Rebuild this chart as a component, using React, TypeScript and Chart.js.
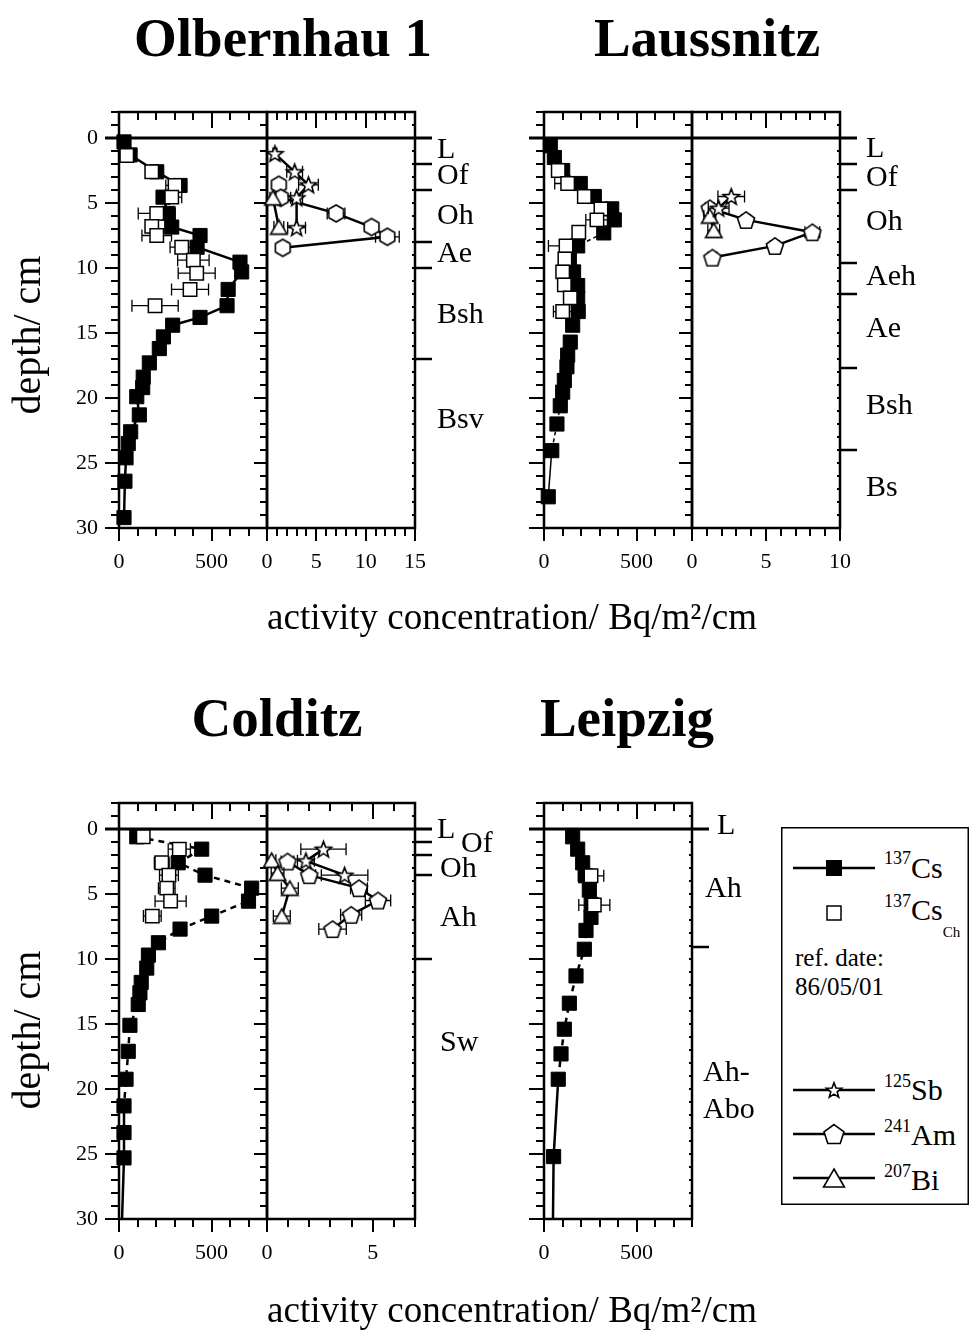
import React, { useEffect, useRef } from 'react';
import { Chart, registerables } from 'chart.js';

Chart.register(...registerables);

const FONT = '"Liberation Serif", "Times New Roman", Times, serif';

// ---------------- data (depth in cm, value) ----------------
// Olbernhau 1 : 137Cs (Bq/m²/cm)
const olbCsDepth = [0.3, 1.3, 2.6, 3.65, 4.55, 5.8, 6.85, 7.5, 8.4, 9.55, 10.3, 11.65, 12.9, 13.8, 14.4, 15.3, 16.2, 17.3, 18.4, 19.2, 19.9, 21.3, 22.6, 23.5, 24.6, 26.4, 29.2];
const olbCsValue = [27, 60, 204, 330, 238, 265, 285, 438, 422, 654, 663, 590, 584, 438, 290, 240, 218, 164, 131, 128, 96, 110, 63, 50, 38, 32, 27];
const olbChDepth = [1.35, 2.6, 3.65, 4.55, 5.8, 6.8, 7.5, 8.4, 9.4, 10.4, 11.65, 12.9];
const olbChValue = [42, 177, 303, 285, 204, 177, 204, 339, 402, 420, 384, 195];
const olbChErr = [10, 10, 50, 54, 100, 25, 80, 63, 85, 100, 100, 125];
const olbSbDepth = [1.2, 2.6, 3.6, 4.6, 6.9];
const olbSbValue = [0.8, 2.8, 4.2, 3.0, 3.0];
const olbSbErr = [0.2, 0.8, 1.0, 0.6, 0.9];
const olbAmDepth = [3.6, 4.6, 5.8, 6.85, 7.6, 8.45];
const olbAmValue = [1.2, 1.4, 7.0, 10.6, 12.2, 1.6];
const olbAmErr = [0.4, 0.5, 0.9, 0.5, 1.2, 0.5];
const olbBiDepth = [4.6, 6.85];
const olbBiValue = [0.6, 1.2];
const olbBiErr = [0.3, 0.5];
const olbHorizonBounds = [2, 4, 8, 10, 17];
const olbHorizonNames = ['L', 'Of', 'Oh', 'Ae', 'Bsh', 'Bsv'];
const olbHorizonDepths = [0.9, 2.9, 6.0, 8.9, 13.6, 21.7];

// Laussnitz
const lauCsDepth = [0.6, 1.5, 2.5, 3.5, 4.5, 5.45, 6.3, 7.3, 8.3, 9.3, 10.3, 11.35, 12.3, 13.35, 14.4, 15.7, 16.7, 17.6, 18.65, 19.55, 20.6, 22, 24.05, 27.6];
const lauCsValue = [34, 56, 101, 196, 272, 366, 380, 323, 182, 137, 160, 182, 182, 185, 155, 142, 128, 124, 110, 101, 88, 70, 42, 23];
const lauChDepth = [2.5, 3.5, 4.5, 5.45, 6.3, 7.25, 8.3, 9.3, 10.3, 11.3, 12.3, 13.35];
const lauChValue = [77, 128, 218, 308, 286, 188, 119, 113, 101, 110, 142, 101];
const lauChErr = [15, 70, 30, 30, 60, 20, 95, 20, 30, 20, 30, 50];
const lauSbDepth = [4.5, 5.4];
const lauSbValue = [2.65, 1.8];
const lauSbErr = [0.9, 0.7];
const lauAmDepth = [5.4, 6.3, 7.25, 8.3, 9.2];
const lauAmValue = [1.2, 3.65, 8.13, 5.6, 1.38];
const lauAmErr = [0.3, 0.3, 0.5, 0.3, 0.3];
const lauBiDepth = [6.0, 7.1];
const lauBiValue = [1.2, 1.47];
const lauBiErr = [0.4, 0.4];
const lauHorizonBounds = [2, 4, 9.6, 12, 17.7, 24];
const lauHorizonNames = ['L', 'Of', 'Oh', 'Aeh', 'Ae', 'Bsh', 'Bs'];
const lauHorizonDepths = [0.85, 3.1, 6.45, 10.7, 14.7, 20.6, 26.9];

// Colditz
const colCsDepth = [0.6, 1.55, 2.6, 3.55, 4.55, 5.55, 6.7, 7.7, 8.75, 9.7, 10.7, 11.8, 12.6, 13.5, 15.1, 17.1, 19.25, 21.3, 23.35, 25.3, 32];
const colCsValue = [96, 447, 320, 465, 717, 700, 501, 330, 213, 159, 150, 120, 113, 104, 59, 50, 38, 27, 27, 27, 12];
const colChDepth = [0.6, 1.55, 2.6, 3.55, 4.55, 5.55, 6.7];
const colChValue = [131, 326, 231, 270, 258, 279, 180];
const colChErr = [25, 60, 40, 51, 45, 84, 48];
const colSbDepth = [1.55, 2.45, 3.55];
const colSbValue = [2.67, 1.84, 3.67];
const colSbErr = [1.07, 0.4, 1.1];
const colAmDepth = [2.5, 3.55, 4.55, 5.5, 6.6, 7.7];
const colAmValue = [0.97, 2.0, 4.35, 5.25, 3.98, 3.1];
const colAmErr = [0.3, 0.3, 0.4, 0.6, 0.5, 0.65];
const colBiDepth = [2.4, 3.4, 4.55, 6.7];
const colBiValue = [0.22, 0.5, 1.08, 0.7];
const colBiErr = [0.2, 0.3, 0.4, 0.4];
const colHorizonBounds = [1, 2, 3.5, 10];
const colHorizonNames = ['L', 'Of', 'Oh', 'Ah', 'Sw'];
const colHorizonDepths = [0.1, 1.2, 3.1, 6.85, 16.5];

// Leipzig
const leiCsDepth = [0.6, 1.55, 2.6, 3.6, 4.7, 5.8, 6.8, 7.8, 9.25, 11.3, 13.4, 15.4, 17.3, 19.25, 25.2, 32];
const leiCsValue = [155, 182, 209, 225, 245, 255, 254, 227, 218, 173, 137, 110, 92, 77, 52, 47];
const leiChDepth = [3.6, 5.85];
const leiChValue = [254, 272];
const leiChErr = [69, 84];
const leiHorizonBounds = [9.1];
const leiHorizonNames = ['L', 'Ah', 'Ah-', 'Abo'];
const leiHorizonDepths = [-0.2, 4.6, 18.8, 21.6];

// axis ranges
const DEPTH_MIN = -2;
const DEPTH_MAX = 30;
const CS_MAX = 800;

// ---------------- layout ----------------
const TOP_Y = 112;
const BOT_Y = 803;
const PLOT_W = 148;
const PLOT_H = 416;
const PADL = 70;
const PADR = 130;
const PADT = 45;
const PADB = 60;
const YW = 50;
const XH = 45;

// ---------------- markers ----------------
function polygon(kind: string, cx: number, cy: number, r: number): [number, number][] {
  const out: [number, number][] = [];
  if (kind === 'star') {
    const off = r * 0.09;
    for (let i = 0; i < 10; i++) {
      const ang = -Math.PI / 2 + (i * Math.PI) / 5;
      const rr = i % 2 === 0 ? r : r * 0.42;
      out.push([cx + rr * Math.cos(ang), cy + off + rr * Math.sin(ang)]);
    }
  } else {
    const n = kind === 'pentagon' ? 5 : kind === 'hexagon' ? 6 : 3;
    const off = kind === 'triangle' ? r * 0.25 : kind === 'pentagon' ? r * 0.1 : 0;
    for (let i = 0; i < n; i++) {
      const ang = -Math.PI / 2 + (i * 2 * Math.PI) / n;
      out.push([cx + r * Math.cos(ang), cy + off + r * Math.sin(ang)]);
    }
  }
  return out;
}

function makeMarker(kind: string, diameter: number): HTMLCanvasElement {
  const c = document.createElement('canvas');
  const s = Math.ceil(diameter + 6);
  c.width = s;
  c.height = s;
  const ctx = c.getContext('2d')!;
  const p = polygon(kind, s / 2, s / 2, diameter / 2);
  ctx.beginPath();
  p.forEach(([x, y], i) => (i ? ctx.lineTo(x, y) : ctx.moveTo(x, y)));
  ctx.closePath();
  ctx.fillStyle = '#fff';
  ctx.fill();
  ctx.lineWidth = 1.6;
  ctx.strokeStyle = '#000';
  ctx.stroke();
  return c;
}

type Markers = Record<string, HTMLCanvasElement>;

const pts = (depth: number[], value: number[]) => depth.map((d, i) => ({ x: value[i], y: d }));
const CLIP = { left: 12, top: 12, right: 12, bottom: 0 };

function filledCs(depth: number[], value: number[], lw: number, dash: number[], solidFrom: number) {
  return {
    data: pts(depth, value),
    showLine: true,
    borderColor: '#000',
    borderWidth: lw,
    segment: {
      borderDash: (c: any) => (c.p0.parsed.y >= solidFrom ? [] : dash),
    },
    pointStyle: 'rect',
    pointRadius: 10,
    pointBackgroundColor: '#000',
    pointBorderColor: '#000',
    pointBorderWidth: 1,
    clip: CLIP,
  };
}

function openCs(depth: number[], value: number[], err: number[]) {
  return {
    data: pts(depth, value),
    errX: err,
    showLine: false,
    pointStyle: 'rect',
    pointRadius: 9.5,
    pointBackgroundColor: '#fff',
    pointBorderColor: '#000',
    pointBorderWidth: 1.5,
    clip: CLIP,
  };
}

function nuclide(depth: number[], value: number[], err: number[], marker: HTMLCanvasElement) {
  return {
    data: pts(depth, value),
    errX: err,
    showLine: true,
    borderColor: '#000',
    borderWidth: 2.5,
    pointStyle: marker,
    pointRadius: 8,
    clip: CLIP,
  };
}

type SubDef = {
  x0: number;
  y0: number;
  xMax: number;
  xStep: number;
  xMajor: number;
  yLabels: boolean;
  leftMajor: number;
  leftMinor: number;
  rightInner: boolean;
  zeroLeft: number;
  zeroRight: number;
  bounds?: number[];
  names?: string[];
  labelDepths?: number[];
  labelDx?: number[];
  datasets: (m: Markers) => any[];
};

const SUBPLOTS: SubDef[] = [
  {
    x0: 119, y0: TOP_Y, xMax: CS_MAX, xStep: 100, xMajor: 500, yLabels: true,
    leftMajor: 14, leftMinor: 8, rightInner: false, zeroLeft: 14, zeroRight: 0,
    datasets: () => [openCs(olbChDepth, olbChValue, olbChErr), filledCs(olbCsDepth, olbCsValue, 2.5, [], 0)],
  },
  {
    x0: 267, y0: TOP_Y, xMax: 15, xStep: 1, xMajor: 5, yLabels: false,
    leftMajor: 13, leftMinor: 7, rightInner: true, zeroLeft: 0, zeroRight: 17,
    bounds: olbHorizonBounds, names: olbHorizonNames, labelDepths: olbHorizonDepths,
    labelDx: [22, 22, 22, 22, 22, 22],
    datasets: (m) => [
      nuclide(olbSbDepth, olbSbValue, olbSbErr, m.star),
      nuclide(olbBiDepth, olbBiValue, olbBiErr, m.triangle),
      nuclide(olbAmDepth, olbAmValue, olbAmErr, m.hexagon),
    ],
  },
  {
    x0: 544, y0: TOP_Y, xMax: CS_MAX, xStep: 100, xMajor: 500, yLabels: false,
    leftMajor: 15, leftMinor: 8, rightInner: false, zeroLeft: 15, zeroRight: 0,
    datasets: () => [openCs(lauChDepth, lauChValue, lauChErr), filledCs(lauCsDepth, lauCsValue, 1.5, [4, 3], 24)],
  },
  {
    x0: 692, y0: TOP_Y, xMax: 10, xStep: 1, xMajor: 5, yLabels: false,
    leftMajor: 13, leftMinor: 7, rightInner: true, zeroLeft: 0, zeroRight: 17,
    bounds: lauHorizonBounds, names: lauHorizonNames, labelDepths: lauHorizonDepths,
    labelDx: [26, 26, 26, 26, 26, 26, 26],
    datasets: (m) => [
      nuclide(lauSbDepth, lauSbValue, lauSbErr, m.star),
      nuclide(lauBiDepth, lauBiValue, lauBiErr, m.triangle),
      nuclide(lauAmDepth, lauAmValue, lauAmErr, m.pentagon),
    ],
  },
  {
    x0: 119, y0: BOT_Y, xMax: CS_MAX, xStep: 100, xMajor: 500, yLabels: true,
    leftMajor: 14, leftMinor: 8, rightInner: false, zeroLeft: 14, zeroRight: 0,
    datasets: () => [openCs(colChDepth, colChValue, colChErr), filledCs(colCsDepth, colCsValue, 2.5, [6, 5], 25)],
  },
  {
    x0: 267, y0: BOT_Y, xMax: 7, xStep: 1, xMajor: 5, yLabels: false,
    leftMajor: 13, leftMinor: 7, rightInner: true, zeroLeft: 0, zeroRight: 17,
    bounds: colHorizonBounds, names: colHorizonNames, labelDepths: colHorizonDepths,
    labelDx: [22, 46, 25, 25, 25],
    datasets: (m) => [
      nuclide(colSbDepth, colSbValue, colSbErr, m.star),
      nuclide(colBiDepth, colBiValue, colBiErr, m.triangle),
      nuclide(colAmDepth, colAmValue, colAmErr, m.pentagon),
    ],
  },
  {
    x0: 544, y0: BOT_Y, xMax: CS_MAX, xStep: 100, xMajor: 500, yLabels: false,
    leftMajor: 15, leftMinor: 8, rightInner: true, zeroLeft: 15, zeroRight: 17,
    bounds: leiHorizonBounds, names: leiHorizonNames, labelDepths: leiHorizonDepths,
    labelDx: [25, 13, 11, 11],
    datasets: () => [openCs(leiChDepth, leiChValue, leiChErr), filledCs(leiCsDepth, leiCsValue, 2.5, [6, 5], 19)],
  },
];

const isMultiple = (v: number, m: number) => Math.abs(v / m - Math.round(v / m)) < 1e-6;

const framePlugin = {
  id: 'frame',
  beforeDatasetsDraw(chart: any, _args: any, o: any) {
    const { ctx, chartArea: a } = chart;
    const xs = chart.scales.x;
    const ys = chart.scales.y;
    ctx.save();
    ctx.strokeStyle = '#000';
    ctx.lineCap = 'butt';
    ctx.lineWidth = 2;
    ctx.beginPath();
    for (const t of xs.ticks) {
      const px = Math.round(xs.getPixelForValue(t.value));
      const major = isMultiple(t.value, o.xMajor);
      ctx.moveTo(px, a.bottom);
      ctx.lineTo(px, a.bottom + (major ? 13 : 8));
      ctx.moveTo(px, a.top);
      ctx.lineTo(px, a.top + (major ? 16 : 8));
    }
    for (const t of ys.ticks) {
      const py = Math.round(ys.getPixelForValue(t.value));
      const major = isMultiple(t.value, 5);
      ctx.moveTo(a.left, py);
      ctx.lineTo(a.left - (major ? o.leftMajor : o.leftMinor), py);
      if (o.rightInner) {
        ctx.moveTo(a.right, py);
        ctx.lineTo(a.right - 3, py);
      }
    }
    ctx.stroke();
    if (o.bounds) {
      ctx.lineWidth = 2.5;
      ctx.beginPath();
      for (const b of o.bounds) {
        const py = Math.round(ys.getPixelForValue(b));
        ctx.moveTo(a.right, py);
        ctx.lineTo(a.right + 17, py);
      }
      ctx.stroke();
    }
    ctx.lineWidth = 2.5;
    ctx.strokeRect(a.left, a.top, a.right - a.left, a.bottom - a.top);
    const y0 = Math.round(ys.getPixelForValue(0));
    ctx.lineWidth = 3;
    ctx.beginPath();
    ctx.moveTo(a.left - o.zeroLeft, y0);
    ctx.lineTo(a.right + o.zeroRight, y0);
    ctx.stroke();
    if (o.names) {
      ctx.fillStyle = '#000';
      ctx.font = `30px ${FONT}`;
      ctx.textBaseline = 'middle';
      ctx.textAlign = 'left';
      o.names.forEach((n: string, i: number) => {
        ctx.fillText(n, a.right + o.labelDx[i], ys.getPixelForValue(o.labelDepths[i]));
      });
    }
    ctx.restore();
  },
};

const errorBarPlugin = {
  id: 'errbars',
  beforeDatasetDraw(chart: any, args: any) {
    const ds: any = chart.data.datasets[args.index];
    if (!ds.errX) return;
    const { ctx, chartArea: a } = chart;
    const xs = chart.scales.x;
    ctx.save();
    ctx.beginPath();
    ctx.rect(a.left - 12, a.top, a.right - a.left + 24, a.bottom - a.top);
    ctx.clip();
    ctx.strokeStyle = '#000';
    ctx.lineWidth = 1.3;
    ctx.beginPath();
    args.meta.data.forEach((el: any, i: number) => {
      const e = ds.errX[i];
      if (!e) return;
      const v = ds.data[i].x;
      const x1 = xs.getPixelForValue(v - e);
      const x2 = xs.getPixelForValue(v + e);
      const y = el.y;
      ctx.moveTo(x1, y);
      ctx.lineTo(x2, y);
      ctx.moveTo(x1, y - 6);
      ctx.lineTo(x1, y + 6);
      ctx.moveTo(x2, y - 6);
      ctx.lineTo(x2, y + 6);
    });
    ctx.stroke();
    ctx.restore();
  },
};

function buildConfig(sp: SubDef, m: Markers): any {
  return {
    type: 'scatter',
    data: { datasets: sp.datasets(m) },
    options: {
      animation: false,
      responsive: false,
      events: [],
      layout: {
        padding: { left: sp.yLabels ? PADL - YW : PADL, right: PADR, top: PADT, bottom: PADB - XH },
      },
      scales: {
        x: {
          type: 'linear',
          position: 'bottom',
          min: 0,
          max: sp.xMax,
          afterFit: (s: any) => {
            s.height = XH;
          },
          grid: { display: false, drawTicks: false },
          border: { display: false },
          ticks: {
            stepSize: sp.xStep,
            autoSkip: false,
            maxRotation: 0,
            padding: 21,
            color: '#000',
            font: { family: FONT, size: 22 },
            callback: (v: number) => (isMultiple(v, sp.xMajor) ? String(v) : ''),
          },
        },
        y: {
          type: 'linear',
          position: 'left',
          min: DEPTH_MIN,
          max: DEPTH_MAX,
          reverse: true,
          display: sp.yLabels,
          afterFit: (s: any) => {
            s.width = sp.yLabels ? YW : 0;
          },
          grid: { display: false, drawTicks: false },
          border: { display: false },
          ticks: {
            stepSize: 1,
            autoSkip: false,
            padding: 21,
            color: '#000',
            font: { family: FONT, size: 22 },
            callback: (v: number) => (v >= 0 && isMultiple(v, 5) ? String(v) : ''),
          },
        },
      },
      plugins: {
        legend: { display: false },
        tooltip: { enabled: false },
        frame: {
          xMajor: sp.xMajor,
          leftMajor: sp.leftMajor,
          leftMinor: sp.leftMinor,
          rightInner: sp.rightInner,
          zeroLeft: sp.zeroLeft,
          zeroRight: sp.zeroRight,
          bounds: sp.bounds || null,
          names: sp.names || null,
          labelDepths: sp.labelDepths || null,
          labelDx: sp.labelDx || null,
        },
      },
    },
    plugins: [framePlugin, errorBarPlugin],
  };
}

const ptsStr = (p: [number, number][]) => p.map(([x, y]) => `${x.toFixed(1)},${y.toFixed(1)}`).join(' ');

function Legend() {
  const L = { left: 781, top: 827, w: 188, h: 378 };
  const lx1 = 12;
  const lx2 = 94;
  const mx = 53;
  const tx = 103;
  return (
    <g transform={`translate(${L.left},${L.top})`}>
      <rect x={0.75} y={0.75} width={L.w - 1.5} height={L.h - 1.5} fill="#fff" stroke="#000" strokeWidth={1.5} />
      <line x1={lx1} y1={41} x2={lx2} y2={41} stroke="#000" strokeWidth={2.5} />
      <rect x={mx - 8} y={33} width={16} height={16} fill="#000" />
      <text x={tx} y={51} fontSize={30} fontFamily={FONT}>
        <tspan fontSize={18} dy={-14}>137</tspan>
        <tspan dy={14}>Cs</tspan>
      </text>
      <rect x={mx - 7} y={79} width={14} height={14} fill="#fff" stroke="#000" strokeWidth={1.5} />
      <text x={tx} y={93} fontSize={30} fontFamily={FONT}>
        <tspan fontSize={18} dy={-13}>137</tspan>
        <tspan dy={13}>Cs</tspan>
        <tspan fontSize={15} dy={17}>Ch</tspan>
      </text>
      <text x={14} y={139} fontSize={25} fontFamily={FONT}>ref. date:</text>
      <text x={14} y={168} fontSize={25} fontFamily={FONT}>86/05/01</text>
      <line x1={lx1} y1={263} x2={lx2} y2={263} stroke="#000" strokeWidth={2.5} />
      <polygon points={ptsStr(polygon('star', mx, 263, 8))} fill="#fff" stroke="#000" strokeWidth={1.6} />
      <text x={tx} y={273} fontSize={30} fontFamily={FONT}>
        <tspan fontSize={18} dy={-13}>125</tspan>
        <tspan dy={13}>Sb</tspan>
      </text>
      <line x1={lx1} y1={307} x2={lx2} y2={307} stroke="#000" strokeWidth={2.5} />
      <polygon points={ptsStr(polygon('pentagon', mx, 307, 10.5))} fill="#fff" stroke="#000" strokeWidth={1.6} />
      <text x={tx} y={318} fontSize={30} fontFamily={FONT}>
        <tspan fontSize={18} dy={-13}>241</tspan>
        <tspan dy={13}>Am</tspan>
      </text>
      <line x1={lx1} y1={351} x2={lx2} y2={351} stroke="#000" strokeWidth={2.5} />
      <polygon points={ptsStr(polygon('triangle', mx, 351, 12))} fill="#fff" stroke="#000" strokeWidth={1.6} />
      <text x={tx} y={363} fontSize={30} fontFamily={FONT}>
        <tspan fontSize={18} dy={-13}>207</tspan>
        <tspan dy={13}>Bi</tspan>
      </text>
    </g>
  );
}

export default function App() {
  const refs = useRef<(HTMLCanvasElement | null)[]>([]);

  useEffect(() => {
    document.body.style.margin = '0';
    const markers: Markers = {
      star: makeMarker('star', 17),
      pentagon: makeMarker('pentagon', 18),
      hexagon: makeMarker('hexagon', 17),
      triangle: makeMarker('triangle', 19),
    };
    const charts = SUBPLOTS.map((sp, i) => new Chart(refs.current[i] as HTMLCanvasElement, buildConfig(sp, markers)));
    return () => charts.forEach((c) => c.destroy());
  }, []);

  return (
    <div style={{ position: 'absolute', left: 0, top: 0, width: 970, height: 1333, background: '#fff', overflow: 'hidden' }}>
      {SUBPLOTS.map((sp, i) => {
        const w = PLOT_W + PADL + PADR;
        const h = PLOT_H + PADT + PADB;
        return (
          <canvas
            key={i}
            ref={(el) => {
              refs.current[i] = el;
            }}
            width={w}
            height={h}
            style={{ position: 'absolute', left: sp.x0 - PADL, top: sp.y0 - PADT, width: w, height: h }}
          />
        );
      })}
      <svg width={970} height={1333} style={{ position: 'absolute', left: 0, top: 0, pointerEvents: 'none' }}>
        <g fontFamily={FONT} fill="#000">
          <text x={283} y={56} fontSize={55} fontWeight="bold" textAnchor="middle">Olbernhau 1</text>
          <text x={707} y={56} fontSize={55} fontWeight="bold" textAnchor="middle">Laussnitz</text>
          <text x={277} y={736} fontSize={55} fontWeight="bold" textAnchor="middle">Colditz</text>
          <text x={627} y={736} fontSize={55} fontWeight="bold" textAnchor="middle">Leipzig</text>
          <text x={512} y={629} fontSize={37} textAnchor="middle">activity concentration/ Bq/m²/cm</text>
          <text x={512} y={1322} fontSize={37} textAnchor="middle">activity concentration/ Bq/m²/cm</text>
          <text transform="translate(40,335) rotate(-90)" fontSize={40} textAnchor="middle">depth/ cm</text>
          <text transform="translate(40,1030) rotate(-90)" fontSize={40} textAnchor="middle">depth/ cm</text>
        </g>
        <Legend />
      </svg>
    </div>
  );
}
